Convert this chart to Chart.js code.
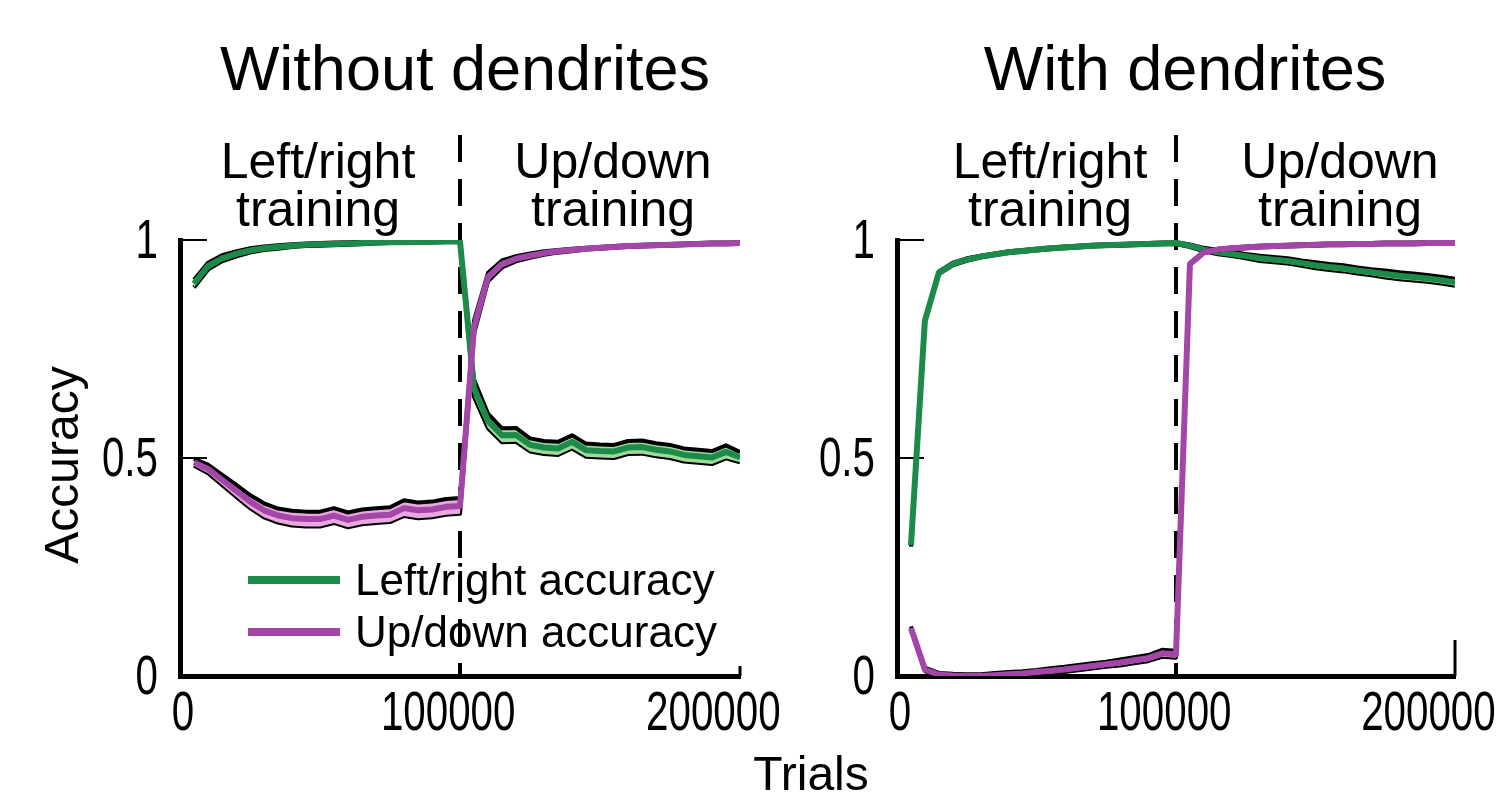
<!DOCTYPE html>
<html><head><meta charset="utf-8">
<script src="https://cdn.jsdelivr.net/npm/chart.js@4"></script>
<style>
html,body{margin:0;padding:0;background:#fff;overflow:hidden;width:1503px;height:796px;}
canvas{position:absolute;left:0;top:0;}
</style></head><body>
<canvas id="c1" width="1503" height="796"></canvas>
<canvas id="c2" width="1600" height="796"></canvas>
<script>
// ---------- DATA ----------
const trials = [5000,10000,15000,20000,25000,30000,35000,40000,45000,50000,
  55000,60000,65000,70000,75000,80000,85000,90000,95000,100000,
  105000,110000,115000,120000,125000,130000,135000,140000,145000,150000,
  155000,160000,165000,170000,175000,180000,185000,190000,195000,200000];
const xTickValues = [0, 100000, 200000];
const yTickValues = [0, 0.5, 1];
const switchTrial = 100000;
const panelTitles = ["Without dendrites", "With dendrites"];
const phaseLabels = [["Left/right", "training"], ["Up/down", "training"]];
const seriesNames = ["Left/right accuracy", "Up/down accuracy"];
const xAxisTitle = "Trials";
const yAxisTitle = "Accuracy";

// Without dendrites
const noDendLRMean = [0.90,0.94,0.958,0.968,0.976,0.981,0.984,0.987,0.989,0.990,
  0.991,0.992,0.993,0.994,0.995,0.995,0.996,0.996,0.997,0.997,
  0.66,0.585,0.552,0.553,0.530,0.524,0.522,0.537,0.518,0.516,
  0.515,0.524,0.525,0.519,0.515,0.507,0.504,0.501,0.514,0.502];
const noDendLRErr = [0.009,0.008,0.007,0.006,0.005,0.004,0.004,0.003,0.003,0.003,
  0.003,0.003,0.003,0.002,0.002,0.002,0.002,0.002,0.002,0.002,
  0.02,0.017,0.016,0.016,0.015,0.015,0.015,0.015,0.015,0.015,
  0.015,0.015,0.015,0.015,0.015,0.015,0.015,0.015,0.015,0.012];
const noDendUDMean = [0.49,0.475,0.45,0.425,0.40,0.38,0.368,0.362,0.36,0.36,
  0.368,0.358,0.365,0.368,0.37,0.385,0.38,0.382,0.388,0.39,
  0.80,0.915,0.945,0.957,0.964,0.970,0.974,0.977,0.980,0.982,
  0.984,0.986,0.987,0.988,0.989,0.990,0.991,0.992,0.992,0.993];
const noDendUDErr = [0.008,0.01,0.012,0.014,0.015,0.016,0.016,0.017,0.017,0.017,
  0.017,0.017,0.017,0.017,0.017,0.018,0.018,0.018,0.018,0.018,
  0.015,0.01,0.008,0.006,0.005,0.004,0.003,0.003,0.002,0.002,
  0.002,0.002,0.002,0.002,0.002,0.002,0.002,0.002,0.002,0.002];

// With dendrites
const dendLRMean = [0.30,0.815,0.925,0.945,0.955,0.962,0.967,0.972,0.975,0.978,
  0.981,0.983,0.985,0.987,0.988,0.989,0.990,0.991,0.992,0.993,
  0.987,0.978,0.972,0.968,0.963,0.958,0.955,0.952,0.947,0.942,
  0.938,0.935,0.930,0.926,0.922,0.918,0.915,0.912,0.908,0.903];
const dendLRErr = [0.003,0.003,0.003,0.003,0.003,0.002,0.002,0.002,0.002,0.002,
  0.002,0.002,0.002,0.002,0.002,0.002,0.002,0.002,0.002,0.002,
  0.003,0.004,0.005,0.005,0.005,0.006,0.006,0.006,0.006,0.007,
  0.007,0.007,0.007,0.007,0.008,0.008,0.008,0.008,0.008,0.008];
const dendUDMean = [0.11,0.015,0.003,0.001,0.0,0.0,0.002,0.004,0.006,0.009,
  0.012,0.015,0.019,0.023,0.027,0.031,0.036,0.041,0.052,0.050,
  0.945,0.972,0.978,0.981,0.983,0.985,0.986,0.987,0.988,0.989,
  0.990,0.990,0.991,0.991,0.992,0.992,0.992,0.993,0.993,0.993];
const dendUDErr = [0.004,0.004,0.004,0.004,0.004,0.004,0.005,0.005,0.005,0.005,
  0.006,0.006,0.006,0.006,0.006,0.007,0.007,0.007,0.008,0.008,
  0.002,0.002,0.002,0.002,0.002,0.002,0.002,0.002,0.002,0.002,
  0.002,0.002,0.002,0.002,0.002,0.002,0.002,0.002,0.002,0.002];

// ---------- STYLE ----------
const GREEN = '#1c8a48', GREEN_LIGHT = '#9fd99a';
const PURPLE = '#a445a8', PURPLE_LIGHT = '#e8a8df';
const FONT = "'Liberation Sans', Arial, sans-serif";
const TICK_SQUEEZE = 0.72;

function pts(vals, errs, sign) {
  return trials.map((t, i) => ({x: t, y: vals[i] + sign * (errs ? errs[i] : 0)}));
}

function bandDatasets(mean, err, color, light, base, idx0) {
  return [
    {data: pts(mean, err, -1), borderColor: '#000', borderWidth: 4, fill: false, order: base + 2},
    {data: pts(mean, err, 1), borderColor: '#000', borderWidth: 4, fill: idx0, backgroundColor: light, order: base + 1},
    {data: pts(mean, null, 0), borderColor: color, borderWidth: 6, fill: false, order: base}
  ];
}

function narrowText(ctx, text, x, y, align) {
  ctx.save();
  ctx.translate(x, y);
  ctx.scale(TICK_SQUEEZE, 1);
  ctx.textAlign = align;
  ctx.fillText(text, 0, 0);
  ctx.restore();
}

const textPlugin = {
  id: 'panelText',
  beforeDatasetsDraw(chart, args, opts) {
    const {ctx, chartArea} = chart;
    const xs = chart.scales.x;
    const x = xs.getPixelForValue(switchTrial);
    ctx.save();
    ctx.strokeStyle = '#000';
    ctx.lineWidth = 4;
    ctx.setLineDash([27, 17]);
    ctx.beginPath();
    ctx.moveTo(x, 135);
    ctx.lineTo(x, chartArea.bottom);
    ctx.stroke();
    ctx.setLineDash([]);
    const ys = chart.scales.y;
    ctx.lineWidth = 2;
    ys.ticks.forEach(t => {
      const y = ys.getPixelForValue(t.value);
      ctx.beginPath(); ctx.moveTo(chartArea.left, y); ctx.lineTo(chartArea.left + 27, y); ctx.stroke();
    });
    ctx.lineWidth = 3;
    const xe = xs.getPixelForValue(xs.max);
    ctx.beginPath(); ctx.moveTo(xe, chartArea.bottom); ctx.lineTo(xe, chartArea.bottom - opts.endTick); ctx.stroke();
    ctx.restore();
  },
  afterDraw(chart, args, opts) {
    const {ctx, chartArea} = chart;
    const xs = chart.scales.x, ys = chart.scales.y;
    ctx.save();
    ctx.fillStyle = '#000';
    ctx.font = `56px ${FONT}`;
    ctx.textBaseline = 'middle';
    ys.ticks.forEach(t => {
      narrowText(ctx, String(t.value), chartArea.left - 22, ys.getPixelForValue(t.value) + 3, 'right');
    });
    ctx.textBaseline = 'alphabetic';
    xs.ticks.forEach(t => {
      const px = xs.getPixelForValue(t.value);
      const lx = chartArea.left + (px - chartArea.left) * 0.947 + 3;
      narrowText(ctx, String(t.value), lx, 730, 'center');
    });
    ctx.textAlign = 'center';
    ctx.font = `63px ${FONT}`;
    ctx.fillText(opts.title, opts.titleX, 90);
    ctx.font = `50px ${FONT}`;
    opts.phaseX.forEach((px, i) => {
      ctx.fillText(phaseLabels[i][0], px, 178);
      ctx.fillText(phaseLabels[i][1], px, 226);
    });
    if (opts.extras) {
      ctx.font = `48px ${FONT}`;
      ctx.fillText(xAxisTitle, 811, 790);
      ctx.save();
      ctx.translate(78, 465);
      ctx.rotate(-Math.PI / 2);
      ctx.fillText(yAxisTitle, 0, 0);
      ctx.restore();
      const cols = [GREEN, PURPLE];
      const ly = [580, 632];
      ctx.textAlign = 'left';
      ctx.font = `44px ${FONT}`;
      cols.forEach((c, i) => {
        ctx.strokeStyle = c; ctx.lineWidth = 8;
        ctx.beginPath(); ctx.moveTo(248, ly[i]); ctx.lineTo(340, ly[i]); ctx.stroke();
        ctx.fillText(seriesNames[i], 355, ly[i] + 15);
      });
    }
    ctx.restore();
  }
};

function makeChart(id, lrMean, lrErr, udMean, udErr, padding, yWidth, textOpts) {
  const datasets = [
    ...bandDatasets(lrMean, lrErr, GREEN, GREEN_LIGHT, 4, 0),
    ...bandDatasets(udMean, udErr, PURPLE, PURPLE_LIGHT, 1, 3)
  ];
  return new Chart(document.getElementById(id), {
    type: 'line',
    data: {datasets},
    options: {
      responsive: false,
      animation: false,
      layout: {padding},
      elements: {point: {radius: 0}, line: {tension: 0, borderJoinStyle: 'round'}},
      plugins: {legend: {display: false}, tooltip: {enabled: false}, panelText: textOpts},
      scales: {
        x: {
          type: 'linear', min: 0, max: 200000,
          grid: {display: false},
          border: {display: true, color: '#000', width: 5},
          afterBuildTicks: s => { s.ticks = xTickValues.map(v => ({value: v})); },
          afterFit: s => { s.height = 120; },
          ticks: {display: false}
        },
        y: {
          type: 'linear', min: 0, max: 1,
          grid: {display: false},
          border: {display: true, color: '#000', width: 5},
          afterBuildTicks: s => { s.ticks = yTickValues.map(v => ({value: v})); },
          afterFit: s => { s.width = yWidth; },
          ticks: {display: false}
        }
      }
    },
    plugins: [textPlugin]
  });
}

makeChart('c1', noDendLRMean, noDendLRErr, noDendUDMean, noDendUDErr,
  {left: 0, right: 763, top: 240, bottom: 0}, 180,
  {title: panelTitles[0], titleX: 465, phaseX: [318, 613], endTick: 10, extras: true});
makeChart('c2', dendLRMean, dendLRErr, dendUDMean, dendUDErr,
  {left: 797, right: 145, top: 240, bottom: 0}, 100,
  {title: panelTitles[1], titleX: 1185, phaseX: [1050, 1340], endTick: 36, extras: false});
</script>
</body></html>
